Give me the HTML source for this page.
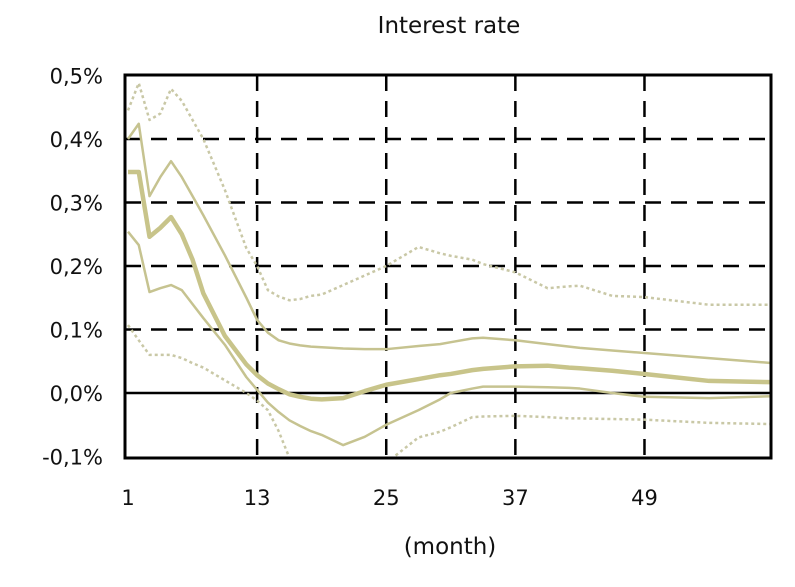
<!DOCTYPE html>
<html><head><meta charset="utf-8"><style>
body{margin:0;background:#fff;}
svg text{font-family:"DejaVu Sans","Liberation Sans",sans-serif;font-size:21px;fill:#111;}
svg text.big{font-size:23px;}
</style></head><body>
<svg width="795" height="582">
<defs><clipPath id="pc"><rect x="125" y="75" width="646" height="383"/></clipPath></defs>
<g id="grid"></g>
<g id="series" clip-path="url(#pc)"></g>
<g id="axes"></g>
<text class="big" x="449" y="33" text-anchor="middle">Interest rate</text>
<text class="big" x="450" y="554" text-anchor="middle">(month)</text>
</svg>
<script>
const months=[1,2,3,4,5,6,7,8,10,12,13,14,15,16,17,18,19,21,23,25,28,30,31,33,34,37,40,42,43,46,49,55,61];
const mean=[0.348,0.348,0.246,0.26,0.277,0.25,0.21,0.157,0.09,0.045,0.028,0.015,0.006,-0.002,-0.006,-0.009,-0.01,-0.008,0.003,0.013,0.022,0.028,0.03,0.036,0.038,0.042,0.043,0.04,0.039,0.035,0.03,0.019,0.017];
const upper=[0.40,0.424,0.31,0.34,0.365,0.34,0.31,0.28,0.217,0.15,0.115,0.095,0.083,0.078,0.075,0.073,0.072,0.07,0.069,0.069,0.074,0.077,0.08,0.086,0.087,0.083,0.077,0.073,0.071,0.067,0.063,0.055,0.047];
const lower=[0.254,0.233,0.159,0.165,0.17,0.162,0.14,0.118,0.076,0.025,0.005,-0.015,-0.03,-0.043,-0.052,-0.06,-0.066,-0.082,-0.069,-0.05,-0.027,-0.01,0,0.007,0.01,0.01,0.009,0.008,0.007,0,-0.006,-0.008,-0.005];
const upDot=[0.445,0.488,0.43,0.44,0.479,0.46,0.43,0.40,0.32,0.228,0.2,0.162,0.152,0.146,0.148,0.153,0.155,0.17,0.185,0.2,0.23,0.22,0.216,0.21,0.203,0.19,0.165,0.168,0.169,0.153,0.151,0.139,0.139];
const loDot=[0.107,0.083,0.06,0.06,0.06,0.055,0.047,0.04,0.02,0,-0.012,-0.027,-0.06,-0.102,-0.13,-0.15,-0.16,-0.16,-0.14,-0.11,-0.07,-0.061,-0.054,-0.038,-0.037,-0.036,-0.038,-0.04,-0.04,-0.041,-0.042,-0.047,-0.049];
const yTicks=[0.5,0.4,0.3,0.2,0.1,0,-0.1];
const yTickLabels=["0,5%","0,4%","0,3%","0,2%","0,1%","0,0%","-0,1%"];
const xTicks=[1,13,25,37,49];
const xTickLabels=["1","13","25","37","49"];
const L=125,R=771,T=75,B=458;
const xs=m=>128+(m-1)*10.76;
const ys=v=>393-v*635;
const NS="http://www.w3.org/2000/svg";
function mk(tag,at,parent){const e=document.createElementNS(NS,tag);for(const k in at)e.setAttribute(k,at[k]);parent.appendChild(e);return e;}
const grid=document.getElementById('grid'),ser=document.getElementById('series'),ax=document.getElementById('axes');
yTicks.forEach((v,i)=>{
  if(v!==0.5&&v!==-0.1&&v!==0){const l=mk('line',{x1:L,x2:R,y1:ys(v),y2:ys(v),stroke:'#000','stroke-width':2.5,'stroke-dasharray':'16,10'},grid);
  
  }
  const t=mk('text',{x:103,y:ys(v)+8,'text-anchor':'end'},ax);t.textContent=yTickLabels[i];
  
  
});
xTicks.forEach((m,i)=>{
  if(m!==1){const l=mk('line',{x1:xs(m),x2:xs(m),y1:T,y2:B,stroke:'#000','stroke-width':2.5,'stroke-dasharray':'16,10'},grid);
  
  }
  const t=mk('text',{x:xs(m),y:505,'text-anchor':'middle',fill:m===1?'#999':'#111'},ax);t.textContent=xTickLabels[i];
  
  
});
const z=mk('line',{x1:L,x2:R,y1:ys(0),y2:ys(0),stroke:'#000','stroke-width':2.5},grid);


function line(arr,w,col,dash,name){
  const p=mk('polyline',{points:months.map((m,i)=>xs(m)+','+ys(arr[i])).join(' '),fill:'none',stroke:col,'stroke-width':w,'stroke-dasharray':dash||'none','stroke-linejoin':'round'},ser);
  
  
}
line(upDot,2.5,'#c9c8a6','3,3','upper-dotted-band');
line(loDot,2.5,'#c9c8a6','3,3','lower-dotted-band');
line(upper,2.5,'#c6c390','','upper-band');
line(lower,2.5,'#c6c390','','lower-band');
line(mean,4.5,'#c8c48a','','interest-rate-response');
const f=mk('rect',{x:L,y:T,width:R-L,height:B-T,fill:'none',stroke:'#000','stroke-width':3},ax);


</script>
</body></html>
